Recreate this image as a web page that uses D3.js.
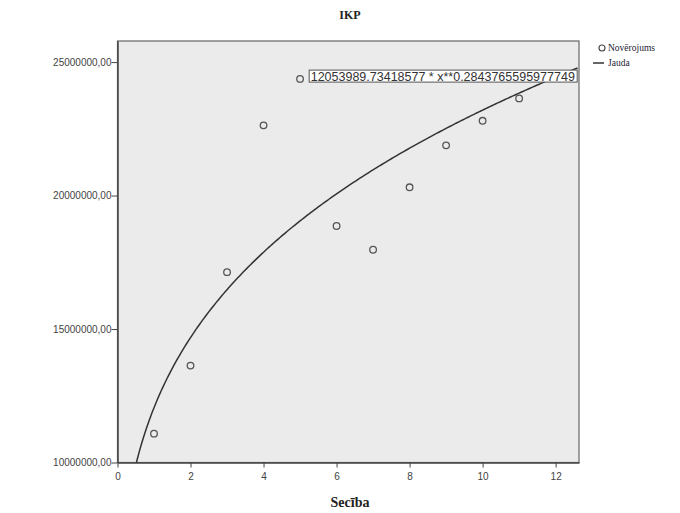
<!DOCTYPE html>
<html>
<head>
<meta charset="utf-8">
<script src="https://cdn.jsdelivr.net/npm/d3@7"></script>
<style>
  body { margin: 0; background: #fff; }
  .axis path, .axis line { stroke: #444; }
  .axis text { fill: #444; font-size: 10px; font-family: Arial, "Liberation Sans", sans-serif; }
  .serif { font-family: "Liberation Serif", "Times New Roman", serif; }
</style>
</head>
<body>
<svg class="ikp" width="680" height="513"></svg>
<script>
// observed values
const order = [1, 2, 3, 4, 5, 6, 7, 8, 9, 10, 11];
const ikp = [11080000, 13630000, 17130000, 22630000, 24370000, 18860000,
             17970000, 20310000, 21880000, 22800000, 23640000];
const xTicks = [0, 2, 4, 6, 8, 10, 12];
const yTicks = [10000000, 15000000, 20000000, 25000000];
// power model shown in the chart
const coefA = 12053989.73418577;
const coefB = 0.2843765595977749;
const modelLabel = "12053989.73418577 * x**0.2843765595977749";

function drawChart() {
    const svg = d3.select("svg.ikp");
    const margin = { top: 41, right: 101, bottom: 50.5, left: 117.5 };
    const width = +svg.attr("width") - margin.left - margin.right;
    const height = +svg.attr("height") - margin.top - margin.bottom;

    const x = d3.scaleLinear().domain([0, 12.64]).range([0, width]);
    const y = d3.scaleLinear().domain([10000000, 25790000]).range([height, 0]);

    const g = svg.append("g")
        .attr("transform", `translate(${margin.left}, ${margin.top})`);

    g.append("rect")
        .attr("width", width)
        .attr("height", height)
        .attr("fill", "#ebebeb")
        .attr("stroke", "#666")
        .attr("stroke-width", 1.2);

    const fmt = d => d3.format(".2f")(d).replace(".", ",");

    g.append("g")
        .attr("class", "x axis")
        .attr("transform", `translate(0, ${height})`)
        .call(d3.axisBottom(x).tickValues(xTicks).tickSize(5).tickSizeOuter(0))
        .call(a => a.selectAll("text").attr("dy", "0.9em"))
        .call(a => a.select(".domain").attr("stroke-width", 1.5));

    g.append("g")
        .attr("class", "y axis")
        .call(d3.axisLeft(y).tickValues(yTicks).tickFormat(fmt).tickSize(6).tickSizeOuter(0))
        .call(a => a.select(".domain").attr("stroke-width", 1.5))
        .call(a => a.selectAll("text").attr("dx", "0.3em"));

    const defs = svg.append("defs");
    defs.append("clipPath")
        .attr("id", "plot-clip")
        .append("rect")
        .attr("width", width)
        .attr("height", height);

    const curveX = d3.range(0.3, 12.65, 0.05);
    const line = d3.line()
        .x(d => x(d))
        .y(d => y(coefA * Math.pow(d, coefB)));

    g.append("path")
        .datum(curveX)
        .attr("clip-path", "url(#plot-clip)")
        .attr("fill", "none")
        .attr("stroke", "#333")
        .attr("stroke-width", 1.5)
        .attr("d", line);

    g.selectAll(".pt")
        .data(order)
        .enter().append("circle")
        .attr("class", "pt")
        .attr("cx", d => x(d))
        .attr("cy", (d, i) => y(ikp[i]))
        .attr("r", 3.3)
        .attr("fill", "none")
        .attr("stroke", "#555")
        .attr("stroke-width", 1.3);

    // model label box
    const box = g.append("g")
        .attr("transform", `translate(${x(5.25)}, ${y(24700000)})`);
    box.append("rect")
        .attr("width", 268)
        .attr("height", 12)
        .attr("fill", "#fff")
        .attr("stroke", "#555")
        .attr("stroke-width", 1);
    defs.append("clipPath")
        .attr("id", "label-clip")
        .append("rect").attr("width", 267).attr("height", 12);
    box.append("text")
        .attr("clip-path", "url(#label-clip)")
        .attr("x", 1.5)
        .attr("y", 10.5)
        .style("font-family", "Arial, 'Liberation Sans', sans-serif")
        .style("font-size", "12.5px")
        .attr("fill", "#333")
        .text(modelLabel);

    // legend
    const lg = svg.append("g")
        .attr("transform", "translate(598, 48)");
    lg.append("circle")
        .attr("cx", 4).attr("cy", 0).attr("r", 3)
        .attr("fill", "none").attr("stroke", "#444").attr("stroke-width", 1.1);
    lg.append("text").attr("class", "serif")
        .attr("x", 10).attr("y", 3).attr("fill", "#223")
        .style("font-size", "9.5px")
        .text("Novērojums");
    lg.append("line")
        .attr("x1", -5).attr("x2", 6).attr("y1", 15).attr("y2", 15)
        .attr("stroke", "#333").attr("stroke-width", 1.5);
    lg.append("text").attr("class", "serif")
        .attr("x", 10).attr("y", 18).attr("fill", "#223")
        .style("font-size", "9.5px")
        .text("Jauda");

    svg.append("text")
        .attr("class", "serif")
        .attr("x", 350).attr("y", 19)
        .attr("text-anchor", "middle")
        .style("font-weight", "bold")
        .style("font-size", "12px")
        .attr("fill", "#222")
        .text("IKP");

    svg.append("text")
        .attr("class", "serif")
        .attr("x", 350).attr("y", 507)
        .attr("text-anchor", "middle")
        .style("font-weight", "bold")
        .style("font-size", "14px")
        .attr("fill", "#222")
        .text("Secība");
}

drawChart();
</script>
</body>
</html>
